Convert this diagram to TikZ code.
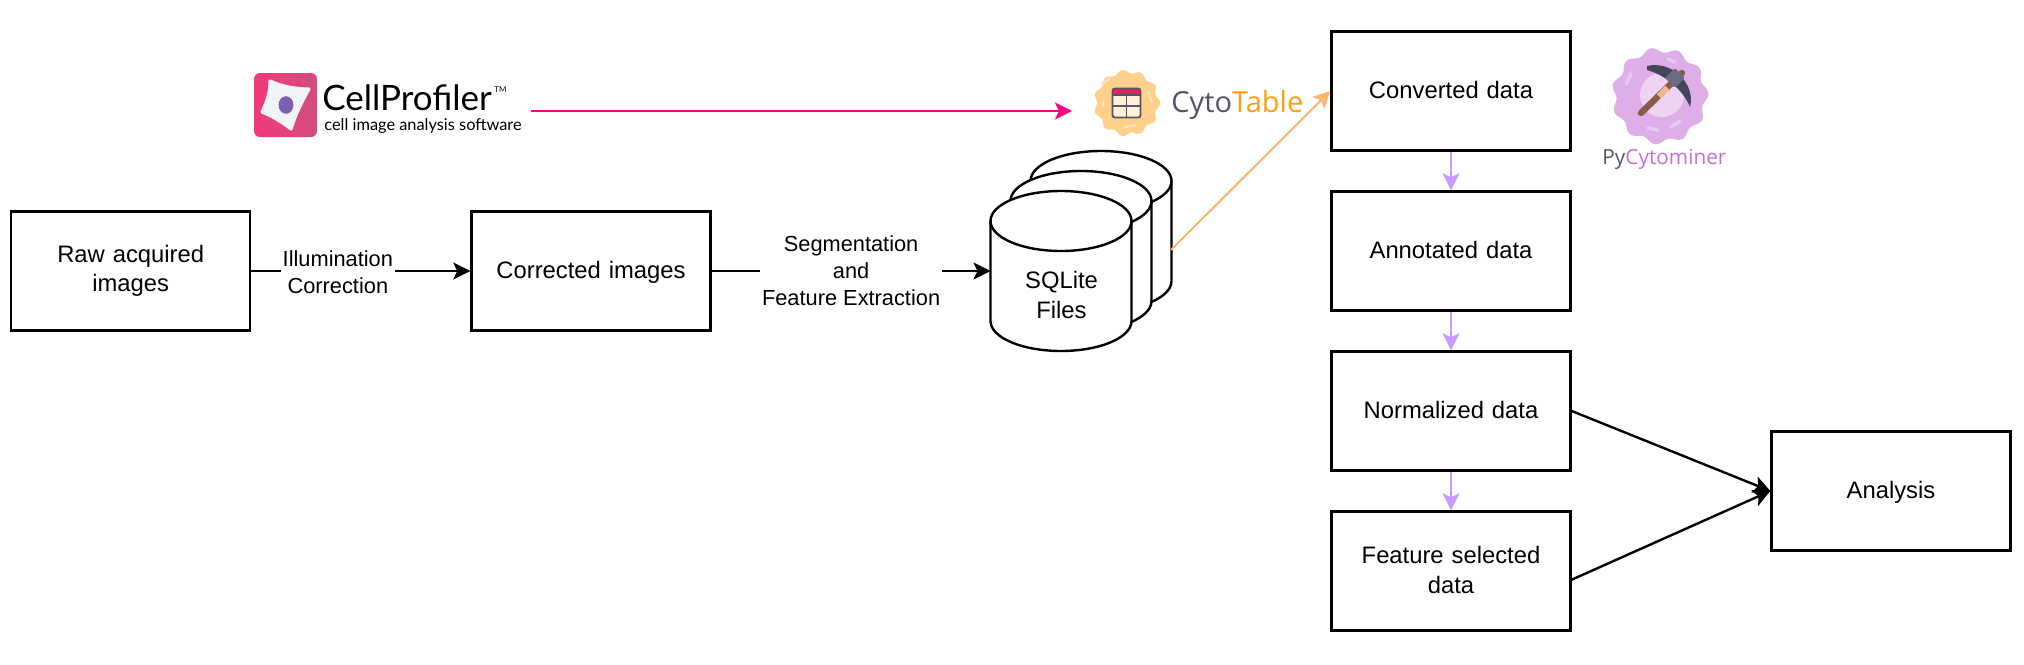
\documentclass[tikz,border=0pt]{standalone}
\usepackage{fontspec}
\setmainfont{Liberation Sans}
\newfontfamily\logofont{Lato}
\newfontfamily\cytofont{Open Sans}
\usetikzlibrary{arrows.meta}
\definecolor{arrowpink}{HTML}{FF0080}
\definecolor{arroworange}{HTML}{FFB570}
\definecolor{arrowpurple}{HTML}{CC99FF}
\definecolor{cellpink}{HTML}{F2397C}
\definecolor{cellpinkb}{HTML}{D24C7E}
\definecolor{cellpurple}{HTML}{7B5FB5}
\definecolor{cellwhite}{HTML}{F1F4F6}
\definecolor{cytoblob}{HTML}{FFD08A}
\definecolor{cytoshine}{HTML}{FFE2B8}
\definecolor{cytored}{HTML}{EE1F5F}
\definecolor{cytocream}{HTML}{FFF0D8}
\definecolor{cytogrey}{HTML}{54546A}
\definecolor{cytoorange}{HTML}{FF9F0F}
\definecolor{pyblob}{HTML}{DDAEE8}
\definecolor{pyinner}{HTML}{EBD3F1}
\definecolor{pyshine}{HTML}{E8C8EF}
\definecolor{pytext}{HTML}{C46FD6}
\definecolor{pickdark}{HTML}{44445A}
\definecolor{pickgrey}{HTML}{6C6C80}
\definecolor{pickbrown}{HTML}{8A5A44}
\definecolor{pickskin}{HTML}{F0B98A}
\tikzset{
  x=0.5pt,y=-0.5pt,
  procbox/.style={draw=black,line width=1.2pt,fill=white,minimum width=119.5pt,minimum height=59.5pt,
    inner sep=2pt,align=center,font=\fontsize{11.9}{14.8}\selectfont,text width=110pt},
  onebox/.style={procbox,text depth=1.3pt},
  flowlabel/.style={fill=white,inner sep=1pt,align=center,font=\fontsize{10.9}{13.4}\selectfont},
  blacktip/.style={-{Stealth[length=8.5pt,width=8.5pt,inset=2pt]}},
  flow/.style={draw=black,line width=1.2pt,blacktip},
  thinflow/.style={line width=1pt,-{Stealth[length=8.5pt,width=8.5pt,inset=2pt]}},
  cyl/.style={draw=black,line width=1.2pt,fill=white},
  hidden/.style={inner sep=0pt,minimum width=70.5pt,minimum height=80pt},
}
\newcommand{\drawcyl}[2]{%
  \path[cyl] (#1-70.5,#2-100) arc[start angle=180,end angle=0,x radius=35.25pt,y radius=15pt]
     -- (#1+70.5,#2) arc[start angle=0,end angle=-180,x radius=35.25pt,y radius=15pt] -- cycle;
  \path[draw=black,line width=1.2pt] (#1-70.5,#2-100) arc[start angle=180,end angle=360,x radius=35.25pt,y radius=15pt];
}
\begin{document}
\begin{tikzpicture}
\useasboundingbox (0,0) rectangle (2024,664);
% boxes
\node[procbox] (raw) at (130.7,271) {Raw acquired\\images};
\node[onebox] (corr) at (591,271) {Corrected images};
\node[onebox] (conv) at (1451,91) {Converted data};
\node[onebox] (anno) at (1451,251) {Annotated data};
\node[onebox] (norm) at (1451,411) {Normalized data};
\node[procbox] (feat) at (1451,571) {Feature selected\\[-0.0pt]data\vspace{1.3pt}};
\node[onebox] (ana) at (1891,491) {Analysis};
% cylinders
\drawcyl{1101}{281}
\drawcyl{1081}{301}
\drawcyl{1061}{321}
\node[hidden] (sqlc) at (1101,231) {};
\node[inner sep=0pt,align=center,font=\fontsize{11.9}{14.8}\selectfont] (sqla) at (1061.5,295) {SQLite\\Files};
\coordinate (sqlout) at (1171,250);
\coordinate (sqlin) at (990.5,271);
\coordinate (featout) at (1571,580);
% black connectors
\draw[flow] (raw.east) -- (corr.west) node[flowlabel,pos=0.395,yshift=-0.5pt] (illu) {Illumination\\Correction};
\draw[flow] (corr.east) -- (sqlin) node[flowlabel,pos=0.5,fill=white] (seg) {Segmentation\\and\\Feature Extraction};
\draw[flow] (norm.east) -- (ana.west);
\draw[flow] (featout) -- (ana.west);
% CellProfiler logo
\shade[left color=cellpink,right color=cellpinkb,rounded corners=3pt] (254,73) rectangle (317,137);
\path[fill=cellwhite,draw=cellwhite,line width=1.6pt,line join=round] (270,81) .. controls (283,87) and (297,89) .. (309,89)
   .. controls (301,103) and (295,116) .. (291,129)
   .. controls (282,122) and (272,116) .. (262,112)
   .. controls (267,102) and (270,92) .. (270,81) -- cycle;
\fill[cellpurple] (286,105) ellipse[x radius=3.7pt,y radius=4.4pt];
\node[anchor=base west,inner sep=0pt,font=\logofont\fontsize{17.5}{20}\selectfont] (cp) at (322,110) {CellProfiler};
\node[anchor=base west,inner sep=0pt,font=\logofont\fontsize{4}{5}\selectfont] (tm) at (494,92) {TM};
\node[anchor=base west,inner sep=0pt,font=\logofont\fontsize{8.18}{10}\selectfont] (cpsub) at (324,130) {cell image analysis software};
\coordinate (cpout) at (531,111);
% CytoTable logo
\fill[cytoblob] plot[domain=0:360,samples=181,smooth] ({1127+(31.5+1.8*cos(11*\x))*cos(\x)},{103+(31.5+1.8*cos(11*\x))*sin(\x)}) -- cycle;
\draw[cytoshine,line width=1.2pt,line cap=round] (1102,84) -- (1109,79);
\draw[cytoshine,line width=1.2pt,line cap=round] (1148,92) -- (1152,102);
\draw[cytoshine,line width=1.2pt,line cap=round] (1124,127) -- (1136,125);
\draw[cytoshine,line width=1.2pt,line cap=round] (1103,102) -- (1103,106);
\fill[cytocream,rounded corners=1pt] (1112,89) rectangle (1141,117);
\fill[cytored] (1113,89) rectangle (1140,95);
\draw[cytogrey,line width=0.9pt,rounded corners=1.2pt] (1112.5,88.5) rectangle (1140.5,117.5);
\draw[cytogrey,line width=0.9pt] (1112.5,95) -- (1140.5,95) (1112.5,106) -- (1140.5,106) (1126.5,95) -- (1126.5,117.5);
\node[anchor=base west,inner sep=0pt,font=\cytofont\fontsize{14.5}{16}\selectfont] (cyto) at (1171,112) {\textcolor{cytogrey}{Cyto}\textcolor{cytoorange}{Table}};
\coordinate (cytoin) at (1072,111);
% Pycytominer logo
\fill[pyblob] plot[domain=0:360,samples=181,smooth] ({1660+(46+2.5*cos(11*\x+30))*cos(\x)},{96+(46+2.5*cos(11*\x+30))*sin(\x)}) -- cycle;
\fill[pyinner] (1662,95) circle[radius=11pt];
\draw[pyshine,line width=1.8pt,line cap=round] (1626,84) -- (1631,74);
\draw[pyshine,line width=1.8pt,line cap=round] (1648,128) -- (1658,130);
\draw[pyshine,line width=1.8pt,line cap=round] (1671,127) -- (1680,121);
\draw[pyshine,line width=1.8pt,line cap=round] (1668,59) -- (1675,62);
\draw[pickbrown,line width=3.2pt,line cap=round] (1641,113) -- (1682,73);
\fill[pickdark] (1647,66) .. controls (1672,60) and (1696,84) .. (1690,107)
   .. controls (1684,92) and (1668,76) .. (1647,70) -- cycle;
\fill[pickgrey,rotate around={45:(1675,78)},rounded corners=1pt] (1668,71) rectangle (1682,85);
\fill[pickskin,rotate around={45:(1663,92)}] (1657,89) rectangle (1669,95);
\node[anchor=base west,inner sep=0pt,font=\cytofont\fontsize{10.4}{15}\selectfont] (pyc) at (1602,164) {\textcolor{cytogrey}{Py}\textcolor{pytext}{Cytominer}};
% coloured connectors
\draw[thinflow,arrowpink,line width=1.2pt] (cpout) -- (cytoin);
\draw[thinflow,arroworange] (sqlout) -- (conv.west);
\draw[thinflow,arrowpurple] (conv.south) -- (anno.north);
\draw[thinflow,arrowpurple] (anno.south) -- (norm.north);
\draw[thinflow,arrowpurple] (norm.south) -- (feat.north);
\end{tikzpicture}
\end{document}
